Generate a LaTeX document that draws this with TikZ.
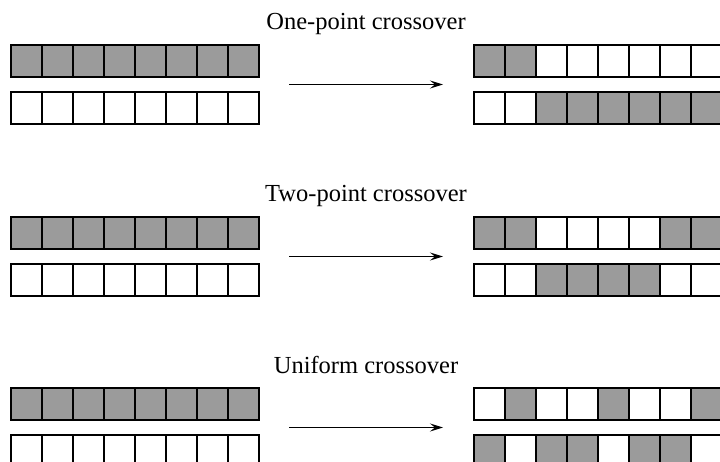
\documentclass[tikz,border=0pt]{standalone}
\usepackage{fontspec}
\setmainfont{Liberation Serif}
\usetikzlibrary{arrows.meta}
\definecolor{shade}{RGB}{155,155,155}
\tikzset{
  cell/.style={draw=black, line width=1.2pt, minimum width=31pt, minimum height=32pt,
    inner sep=0pt, outer sep=0pt, anchor=north west},
  s1/.style={cell, fill=shade},
  s0/.style={cell, fill=white},
  title/.style={font=\fontsize{24.5}{28}\selectfont, anchor=base, inner sep=0pt},
  arr/.style={line width=1pt, -{Stealth[length=13pt,width=8pt,inset=5pt]}}
}
\begin{document}
\begin{tikzpicture}[x=1pt,y=-1pt]
\useasboundingbox (0,0) rectangle (720,462);
\clip (0,0) rectangle (720,462);
\foreach \g/\T/\name/\pa/\pb in {
  1/45/{One-point crossover}/{1,1,0,0,0,0,0,0}/{0,0,1,1,1,1,1,1},
  2/217/{Two-point crossover}/{1,1,0,0,0,0,1,1}/{0,0,1,1,1,1,0,0},
  3/388/{Uniform crossover}/{0,1,0,0,1,0,0,1}/{1,0,1,1,0,1,1,0}}{
  \node[title] (t\g) at (366,{\T-15}) {\name};
  \foreach \i in {1,...,8}{
    \node[s1] (L\g-1-\i) at ({11+31*(\i-1)},\T) {};
    \node[s0] (L\g-2-\i) at ({11+31*(\i-1)},{\T+47}) {};
  }
  \foreach \v [count=\i] in \pa{
    \node[s\v] (R\g-1-\i) at ({474+31*(\i-1)},\T) {};
  }
  \foreach \v [count=\i] in \pb{
    \node[s\v] (R\g-2-\i) at ({474+31*(\i-1)},{\T+47}) {};
  }
  \coordinate (As\g) at (289,{\T+39.5});
  \coordinate (Ae\g) at (443,{\T+39.5});
  \draw[arr] (As\g) -- (Ae\g);
}
\end{tikzpicture}
\end{document}
